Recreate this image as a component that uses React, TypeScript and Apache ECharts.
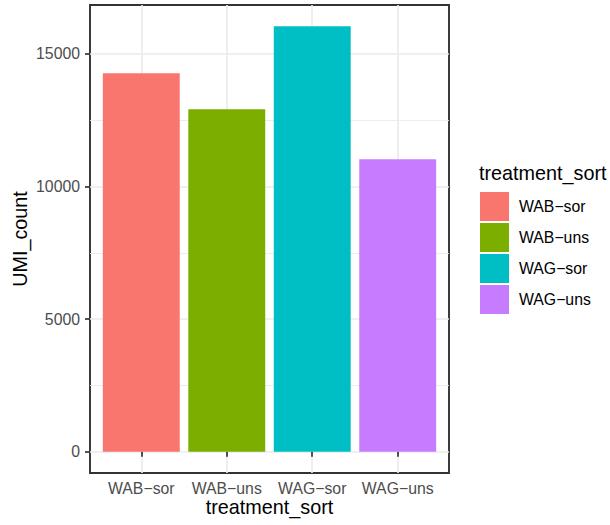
import React, { useEffect, useRef } from "react";
import * as echarts from "echarts";

const categories = ["WAB−sor", "WAB−uns", "WAG−sor", "WAG−uns"];
const umiCounts = [14270, 12910, 16040, 11030];
const colors = ["#F8766D", "#7CAE00", "#00BFC4", "#C77CFF"];
const yTicks = [0, 5000, 10000, 15000];
const yMinorTicks = [2500, 7500, 12500];
const xTicks = [1, 2, 3, 4];

const FONT = "'Liberation Sans', Arial, Helvetica, sans-serif";

export default function App() {
  const ref = useRef<HTMLDivElement>(null);
  useEffect(() => {
    if (!ref.current) return;
    const chart = echarts.init(ref.current, null, { renderer: "svg" });
    const maxV = Math.max(...umiCounts);
    const yMin = -maxV * 0.05;
    const yMax = maxV * 1.05;
    const xMin = 0.4;
    const xMax = categories.length + 0.6;
    const gridLeft = 90;
    const gridTop = 5;
    const gridW = 359;
    const gridH = 468;
    const barW = (0.9 * gridW) / (xMax - xMin);

    const gridSeries: any = {
      name: "__grid",
      type: "line",
      data: [],
      z: 0,
      silent: true,
      markLine: {
        silent: true,
        z: 0,
        symbol: "none",
        animation: false,
        label: { show: false },
        emphasis: { disabled: true },
        data: [
          ...yMinorTicks.map((v) => ({ yAxis: v, lineStyle: { color: "#EBEBEB", width: 0.9, type: "solid" } })),
          ...yTicks.map((v) => ({ yAxis: v, lineStyle: { color: "#EBEBEB", width: 1.7, type: "solid" } })),
          ...xTicks.map((v) => ({ xAxis: v, lineStyle: { color: "#EBEBEB", width: 1.7, type: "solid" } })),
        ],
      },
    };

    const barSeries = categories.map((c, i) => ({
      name: c,
      type: "bar",
      data: [[i + 1, umiCounts[i]]],
      barWidth: barW,
      barGap: "-100%",
      itemStyle: { color: colors[i] },
      z: 3,
    }));

    chart.setOption({
      animation: false,
      textStyle: { fontFamily: FONT },
      grid: {
        left: gridLeft,
        top: gridTop,
        width: gridW,
        height: gridH,
        show: true,
        backgroundColor: "#FFFFFF",
        borderColor: "#333333",
        borderWidth: 1.9,
        containLabel: false,
      },
      xAxis: {
        type: "value",
        min: xMin,
        max: xMax,
        axisLine: { show: false },
        splitLine: { show: false },
        axisTick: { show: true, customValues: xTicks, length: 5, lineStyle: { color: "#333333", width: 1.7 } },
        axisLabel: {
          customValues: xTicks,
          formatter: (v: number) => categories[Math.round(v) - 1] ?? "",
          margin: 7,
          fontSize: 15.8,
          color: "#4D4D4D",
          fontFamily: FONT,
        },
      },
      yAxis: {
        type: "value",
        min: yMin,
        max: yMax,
        axisLine: { show: false },
        splitLine: { show: false },
        axisTick: { show: true, customValues: yTicks, length: 5, lineStyle: { color: "#333333", width: 1.7 } },
        axisLabel: {
          customValues: yTicks,
          formatter: (v: number) => String(Math.round(v)),
          margin: 10,
          fontSize: 15.8,
          color: "#4D4D4D",
          fontFamily: FONT,
        },
      },
      legend: {
        data: categories,
        orient: "vertical",
        left: 480,
        top: 192,
        padding: 0,
        itemWidth: 29,
        itemHeight: 29,
        itemGap: 2,
        icon: "rect",
        selectedMode: false,
        textStyle: { fontSize: 15.8, color: "#000000", fontFamily: FONT, padding: [0, 0, 0, 5] },
      },
      graphic: [
        {
          type: "text",
          left: 479,
          top: 163,
          style: { text: "treatment_sort", fontSize: 19.8, fill: "#000000", fontFamily: FONT },
        },
        {
          type: "text",
          x: 269.5,
          y: 507,
          style: {
            text: "treatment_sort",
            fontSize: 19.8,
            fill: "#000000",
            fontFamily: FONT,
            align: "center",
            verticalAlign: "middle",
          },
        },
        {
          type: "text",
          x: 20,
          y: 239,
          rotation: Math.PI / 2,
          style: {
            text: "UMI_count",
            fontSize: 19.8,
            fill: "#000000",
            fontFamily: FONT,
            align: "center",
            verticalAlign: "middle",
          },
        },
      ],
      series: [gridSeries, ...barSeries],
    });
    return () => chart.dispose();
  }, []);
  return (
    <div
      ref={ref}
      style={{ position: "fixed", left: 0, top: 0, width: 610, height: 525, background: "#FFFFFF" }}
    />
  );
}
